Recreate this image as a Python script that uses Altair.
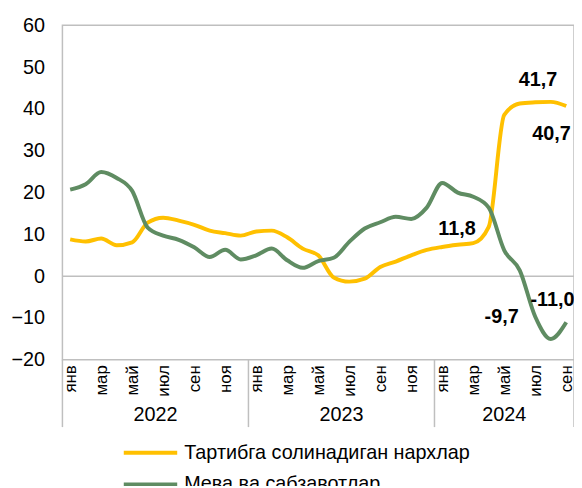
import altair as alt
import pandas as pd

month_names = ['янв', 'фев', 'мар', 'апр', 'май', 'июн', 'июл', 'авг', 'сен', 'окт', 'ноя', 'дек']
years = ['2022', '2023', '2024']
months_per_year = [12, 12, 9]

series_names = ['Тартибга солинадиган нархлар', 'Мева ва сабзавотлар']
series_colors = ['#FFC000', '#5F8C62']

regulated = [8.8, 8.3, 9.0, 7.4, 8.1, 12.8, 14.0, 13.3, 12.3, 10.9, 10.3, 9.7,
             10.7, 10.9, 9.3, 6.6, 5.0, -0.3, -1.3, -0.6, 2.2, 3.5, 5.0, 6.3,
             7.0, 7.5, 7.9, 11.8, 38.6, 41.3, 41.6, 41.7, 40.7]
fruits_veg = [20.7, 22.0, 24.9, 23.5, 20.4, 11.6, 9.7, 8.7, 6.9, 4.6, 6.3, 4.0,
              5.0, 6.6, 3.8, 2.0, 3.6, 4.4, 8.2, 11.4, 12.9, 14.2, 13.7, 16.4,
              22.3, 20.0, 19.0, 16.4, 6.2, 1.4, -9.7, -15.0, -11.0]

# annotations: (series index, month index, text)
annotations = [
    (0, 27, '11,8'),
    (0, 31, '41,7'),
    (0, 32, '40,7'),
    (1, 30, '-9,7'),
    (1, 32, '-11,0'),
]
ann_offsets = [(-32, 2), (-13, -22), (-15, 28), (-34, 0), (-14, -22)]

n = len(regulated)
rows = []
for i in range(n):
    rows.append({'idx': i, 'series': series_names[0], 'value': regulated[i]})
    rows.append({'idx': i, 'series': series_names[1], 'value': fruits_veg[i]})
df = pd.DataFrame(rows)

W, H = 517, 338
FONT = 'Liberation Sans'
GRAY = '#BFBFBF'

xscale = alt.Scale(domain=[-0.5, n - 0.5], nice=False, zero=False)
yscale = alt.Scale(domain=[-20, 60], nice=False)

label_expr = "[" + ",".join("'%s'" % m for m in month_names) + "][datum.value % 12]"

x_axis = alt.Axis(values=list(range(0, n, 2)), labelExpr=label_expr,
                  labelAngle=270, labelAlign='right', labelBaseline='middle',
                  labelPadding=5, labelFontSize=17, labelFont=FONT,
                  labelColor='black', ticks=False, domain=False, grid=False,
                  labelOverlap=False, labelFlush=False, title=None)
y_axis = alt.Axis(values=list(range(-20, 61, 10)), labelFontSize=20,
                  labelFont=FONT, labelColor='black', ticks=False,
                  domain=False, grid=False, labelPadding=18, title=None)

lines = alt.Chart(df).mark_line(interpolate='monotone', strokeWidth=4).encode(
    x=alt.X('idx:Q', scale=xscale, axis=x_axis),
    y=alt.Y('value:Q', scale=yscale, axis=y_axis),
    color=alt.Color('series:N',
                    scale=alt.Scale(domain=series_names, range=series_colors),
                    legend=alt.Legend(title=None, orient='none', legendX=78, legendY=421,
                                      direction='vertical', symbolType='M-3,0H3',
                                      symbolSize=324, symbolStrokeWidth=4,
                                      labelFontSize=20, labelFont=FONT,
                                      labelColor='black', labelOffset=23,
                                      labelLimit=600, rowPadding=11, padding=0)),
)

zero = alt.Chart(pd.DataFrame({'y': [0]})).mark_rule(color=GRAY, strokeWidth=1.5).encode(
    y=alt.Y('y:Q', scale=yscale, axis=y_axis)
)

# year separators
bounds = [-0.5]
acc = 0
for m in months_per_year:
    acc += m
    bounds.append(acc - 0.5)
sep = alt.Chart(pd.DataFrame({'x': bounds})).mark_rule(color=GRAY, strokeWidth=1.5).encode(
    x=alt.X('x:Q', scale=xscale, axis=x_axis),
    y=alt.value(H),
    y2=alt.value(H + 68),
)

year_df = pd.DataFrame({
    'x': [(bounds[i] + bounds[i + 1]) / 2 for i in range(len(years))],
    'year': years,
})
year_text = alt.Chart(year_df).mark_text(fontSize=20, font=FONT, color='black',
                                         baseline='middle').encode(
    x=alt.X('x:Q', scale=xscale, axis=x_axis),
    y=alt.value(H + 56),
    text='year:N',
)

ann_layers = []
for (s, i, t), (dx, dy) in zip(annotations, ann_offsets):
    val = regulated[i] if s == 0 else fruits_veg[i]
    d = pd.DataFrame({'idx': [i], 'value': [val], 'label': [t]})
    ann_layers.append(
        alt.Chart(d).mark_text(fontSize=20, fontWeight='bold', font=FONT, color='black',
                               dx=dx, dy=dy, baseline='middle', align='center').encode(
            x=alt.X('idx:Q', scale=xscale, axis=x_axis),
            y=alt.Y('value:Q', scale=yscale, axis=y_axis),
            text='label:N',
        )
    )

chart = alt.layer(zero, sep, year_text, lines, *ann_layers).properties(
    width=W, height=H,
    autosize=alt.AutoSizeParams(type='none'),
    padding={'left': 55, 'top': 15, 'right': 0, 'bottom': 125},
).configure_view(stroke=GRAY, strokeWidth=1.5)

chart.save('out.html', embed_options={'renderer': 'svg', 'actions': False})
